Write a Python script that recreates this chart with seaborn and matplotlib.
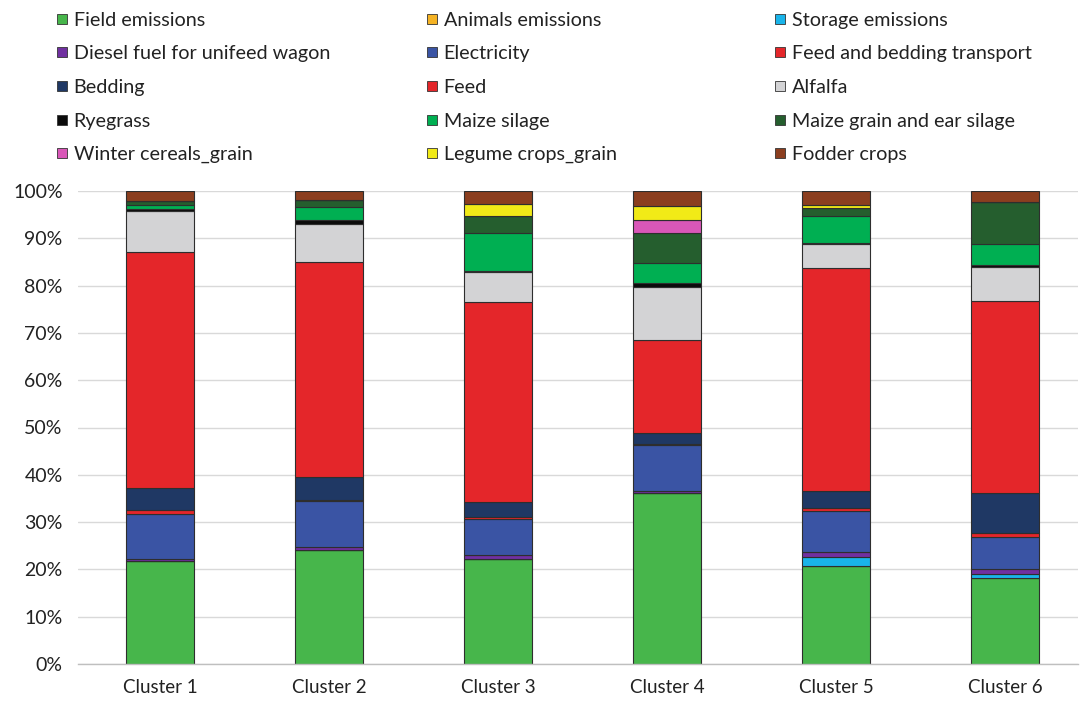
import matplotlib
matplotlib.use("Agg")
import matplotlib.pyplot as plt
from matplotlib.lines import Line2D
from matplotlib.ticker import PercentFormatter
import numpy as np
import pandas as pd
import seaborn as sns

clusters = ["Cluster 1", "Cluster 2", "Cluster 3", "Cluster 4", "Cluster 5", "Cluster 6"]

# Emission sources, bottom of the stack first
sources = [
    "Field emissions", "Animals emissions", "Storage emissions",
    "Diesel fuel for unifeed wagon", "Electricity", "Feed and bedding transport",
    "Bedding", "Feed", "Alfalfa",
    "Ryegrass", "Maize silage", "Maize grain and ear silage",
    "Winter cereals_grain", "Legume crops_grain", "Fodder crops",
]

# Share of total emissions (%) per cluster
field_emissions   = [21.8, 24.0, 22.1, 36.1, 20.7, 18.2]
animals_emissions = [0.0, 0.0, 0.0, 0.0, 0.0, 0.0]
storage_emissions = [0.0, 0.0, 0.0, 0.0, 2.0, 0.8]
diesel_fuel       = [0.3, 0.7, 0.9, 0.5, 1.0, 1.0]
electricity       = [9.6, 9.8, 7.6, 9.8, 8.7, 6.8]
feed_transport    = [0.8, 0.2, 0.4, 0.2, 0.6, 0.8]
bedding           = [4.8, 4.8, 3.3, 2.3, 3.6, 8.5]
feed              = [49.7, 45.4, 42.2, 19.6, 47.1, 40.7]
alfalfa           = [8.8, 8.1, 6.4, 11.1, 5.2, 7.2]
ryegrass          = [0.5, 0.9, 0.2, 1.0, 0.2, 0.4]
maize_silage      = [0.7, 2.7, 8.1, 4.2, 5.7, 4.3]
maize_grain       = [0.8, 1.6, 3.6, 6.3, 1.7, 9.0]
winter_cereals    = [0.0, 0.0, 0.0, 2.8, 0.0, 0.0]
legume_crops      = [0.0, 0.0, 2.4, 3.0, 0.6, 0.0]
fodder_crops      = [2.2, 1.8, 2.8, 3.1, 2.9, 2.3]

series = [
    field_emissions, animals_emissions, storage_emissions,
    diesel_fuel, electricity, feed_transport,
    bedding, feed, alfalfa,
    ryegrass, maize_silage, maize_grain,
    winter_cereals, legume_crops, fodder_crops,
]

colors = [
    "#47B64B", "#F5B324", "#19B4EA",
    "#7030A0", "#3A54A4", "#E4262A",
    "#1F3864", "#E4262A", "#D3D3D5",
    "#0B0B0B", "#00AF52", "#255E2E",
    "#D957B8", "#F1EA17", "#8B3E1F",
]
palette = dict(zip(sources, colors))

rows = []
for src, vals in zip(sources, series):
    for cl, v in zip(clusters, vals):
        rows.append({"cluster": cl, "source": src, "share": v / 100.0})
df = pd.DataFrame(rows)

sns.set_theme(style="white")
font = ["Lato", "DejaVu Sans"]
plt.rcParams["font.family"] = font

fig = plt.figure(figsize=(10.8, 7.03), dpi=100)
ax = fig.add_axes([78 / 1080, 39 / 703, (1078 - 78) / 1080, (664 - 191) / 703])

ax.yaxis.grid(True, color="#D9D9D9", linewidth=1.0)
ax.set_axisbelow(True)

# histplot stacks the last hue level at the bottom, so pass the order reversed
sns.histplot(
    data=df, x="cluster", weights="share", hue="source",
    hue_order=sources[::-1], palette=palette,
    multiple="stack", discrete=True, shrink=0.4,
    edgecolor="#2E2E2E", linewidth=0.8, alpha=1.0,
    legend=False, ax=ax,
)

ax.set_ylim(0, 1.0)
ax.set_yticks(np.arange(0, 1.01, 0.1))
ax.yaxis.set_major_formatter(PercentFormatter(1.0, decimals=0))
x0 = (78 - 160) / 169
x1 = (1078 - 160) / 169
ax.set_xlim(x0, x1)
ax.set_xticks(range(len(clusters)))
ax.set_xticklabels(clusters)
ax.set_xlabel("")
ax.set_ylabel("")
ax.tick_params(axis="x", labelsize=13.5, colors="#222222", length=0, pad=11)
ax.tick_params(axis="y", labelsize=14, colors="#222222", length=0, pad=11)
for side in ["left", "right", "top"]:
    ax.spines[side].set_visible(False)
ax.spines["bottom"].set_color("#BFBFBF")
ax.spines["bottom"].set_linewidth(1.0)

# Legend: three columns of five, read across the rows
col_x = [42 / 1080, 412 / 1080, 760 / 1080]
for c in range(3):
    idx = list(range(c, len(sources), 3))
    handles = [
        Line2D([], [], marker="s", linestyle="none", markersize=7.5,
               markerfacecolor=colors[i], markeredgecolor="#333333",
               markeredgewidth=0.6)
        for i in idx
    ]
    labels = [sources[i] for i in idx]
    fig.legend(
        handles, labels, loc="upper left",
        bbox_to_anchor=(col_x[c], 1.0 + 1 / 703),
        frameon=False, fontsize=14.2, handlelength=0.7,
        handletextpad=0.25, labelspacing=0.84, borderpad=0.15,
        labelcolor="#222222",
    )

fig.savefig("out.png", dpi=100)
